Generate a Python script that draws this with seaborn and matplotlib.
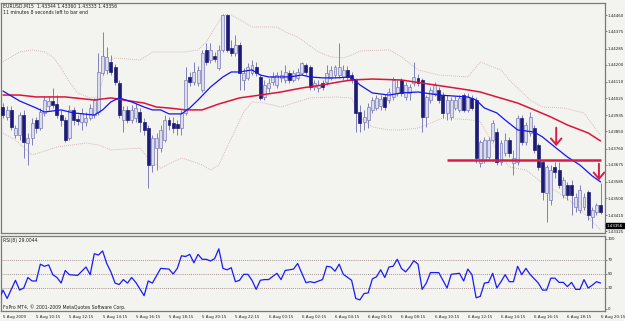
import matplotlib
matplotlib.use("Agg")
import matplotlib.pyplot as plt
import numpy as np
import pandas as pd
import seaborn as sns

sns.set_style("white")
plt.rcParams["font.family"] = ["DejaVu Sans"]

# EURUSD M15, bar 0 = 5 Aug 2009 08:15
bar_open = [
    1.43978, 1.43926, 1.43963, 1.43831, 1.43831, 1.43936, 1.43789, 1.43816, 1.43910, 1.43868,
    1.43947, 1.43984, 1.44010, 1.43994, 1.43936, 1.43910, 1.43816, 1.43963, 1.43915, 1.43900,
    1.43900, 1.43921, 1.43936, 1.43952, 1.44157, 1.44173, 1.44215, 1.44188, 1.44104, 1.43910,
    1.43963, 1.43910, 1.43921, 1.43952, 1.43900, 1.43868, 1.43674, 1.43763, 1.43763, 1.43805,
    1.43910, 1.43894, 1.43889, 1.43868, 1.43947, 1.44136, 1.44110, 1.44104, 1.44068, 1.44278,
    1.44225, 1.44246, 1.44183, 1.44278, 1.44461, 1.44288, 1.44262, 1.44304, 1.44120, 1.44131,
    1.44157, 1.44188, 1.44136, 1.44031, 1.44078, 1.44110, 1.44094, 1.44131, 1.44120, 1.44157,
    1.44120, 1.44131, 1.44157, 1.44199, 1.44188, 1.44083, 1.44078, 1.44104, 1.44110, 1.44131,
    1.44146, 1.44146, 1.44136, 1.44173, 1.44146, 1.44120, 1.43952, 1.43900, 1.43910, 1.43963,
    1.43973, 1.43984, 1.44031, 1.44015, 1.44031, 1.44052, 1.44120, 1.44031, 1.44052, 1.44104,
    1.44131, 1.44120, 1.43926, 1.44015, 1.44052, 1.44068, 1.44041, 1.43947, 1.43926, 1.43973,
    1.43963, 1.44041, 1.43963, 1.44026, 1.44015, 1.43684, 1.43700, 1.43716, 1.43805, 1.43847,
    1.43690, 1.43737, 1.43805, 1.43684, 1.43690, 1.43921, 1.43795, 1.43842, 1.43868, 1.43779,
    1.43690, 1.43527, 1.43490, 1.43663, 1.43648, 1.43516, 1.43569, 1.43569, 1.43453, 1.43438,
    1.43453, 1.43532, 1.43401, 1.43427, 1.43464,
]
bar_high = [
    1.43999, 1.43984, 1.43984, 1.43884, 1.43952, 1.43963, 1.43842, 1.43921, 1.43926, 1.43973,
    1.44036, 1.44036, 1.44078, 1.44041, 1.43963, 1.43926, 1.43989, 1.43978, 1.43936, 1.43973,
    1.43952, 1.43994, 1.44026, 1.44262, 1.44372, 1.44293, 1.44251, 1.44204, 1.44120, 1.43984,
    1.43984, 1.43989, 1.43999, 1.43973, 1.43921, 1.43884, 1.43831, 1.43842, 1.43884, 1.43936,
    1.43926, 1.43926, 1.43910, 1.43963, 1.44188, 1.44162, 1.44215, 1.44194, 1.44278, 1.44314,
    1.44314, 1.44267, 1.44304, 1.44467, 1.44467, 1.44330, 1.44356, 1.44320, 1.44183, 1.44209,
    1.44225, 1.44215, 1.44152, 1.44120, 1.44131, 1.44162, 1.44162, 1.44173, 1.44199, 1.44173,
    1.44173, 1.44183, 1.44215, 1.44209, 1.44199, 1.44120, 1.44120, 1.44120, 1.44199, 1.44194,
    1.44199, 1.44314, 1.44199, 1.44194, 1.44162, 1.44131, 1.43989, 1.43963, 1.43999, 1.44031,
    1.44041, 1.44041, 1.44047, 1.44078, 1.44136, 1.44120, 1.44131, 1.44110, 1.44099, 1.44215,
    1.44152, 1.44131, 1.44041, 1.44083, 1.44110, 1.44083, 1.44057, 1.44041, 1.44031, 1.44036,
    1.44041, 1.44052, 1.44052, 1.44041, 1.44031, 1.43805, 1.43821, 1.43821, 1.43910, 1.43868,
    1.43805, 1.43842, 1.43821, 1.43753, 1.43936, 1.43936, 1.43900, 1.43952, 1.43884, 1.43789,
    1.43700, 1.43674, 1.43674, 1.43690, 1.43690, 1.43611, 1.43585, 1.43595, 1.43527, 1.43569,
    1.43527, 1.43543, 1.43453, 1.43474, 1.43579,
]
bar_low = [
    1.43921, 1.43910, 1.43858, 1.43816, 1.43805, 1.43711, 1.43674, 1.43779, 1.43842, 1.43858,
    1.43931, 1.43963, 1.43973, 1.43921, 1.43879, 1.43795, 1.43805, 1.43884, 1.43884, 1.43858,
    1.43879, 1.43910, 1.43921, 1.43936, 1.44146, 1.44152, 1.44146, 1.44094, 1.43921, 1.43847,
    1.43894, 1.43894, 1.43900, 1.43847, 1.43831, 1.43553, 1.43637, 1.43648, 1.43742, 1.43795,
    1.43858, 1.43842, 1.43831, 1.43831, 1.43936, 1.44089, 1.44094, 1.44089, 1.44057, 1.44199,
    1.44209, 1.44215, 1.44173, 1.44267, 1.44267, 1.44246, 1.44246, 1.44068, 1.44068, 1.44120,
    1.44146, 1.44141, 1.44015, 1.44015, 1.44057, 1.44094, 1.44078, 1.44110, 1.44104, 1.44104,
    1.44110, 1.44120, 1.44146, 1.44146, 1.44068, 1.44068, 1.44057, 1.44068, 1.44094, 1.44120,
    1.44131, 1.44131, 1.44120, 1.44120, 1.44104, 1.43847, 1.43847, 1.43858, 1.43868, 1.43947,
    1.43963, 1.43963, 1.43963, 1.43999, 1.44015, 1.44036, 1.44036, 1.44015, 1.44015, 1.44089,
    1.44089, 1.43847, 1.43873, 1.43999, 1.44036, 1.43999, 1.43921, 1.43910, 1.43910, 1.43963,
    1.43952, 1.43952, 1.43952, 1.43963, 1.43684, 1.43663, 1.43684, 1.43700, 1.43795, 1.43674,
    1.43674, 1.43721, 1.43716, 1.43621, 1.43674, 1.43779, 1.43779, 1.43826, 1.43737, 1.43648,
    1.43490, 1.43375, 1.43464, 1.43606, 1.43553, 1.43501, 1.43490, 1.43411, 1.43427, 1.43422,
    1.43438, 1.43385, 1.43343, 1.43411, 1.43417,
]
bar_close = [
    1.43936, 1.43963, 1.43873, 1.43868, 1.43936, 1.43795, 1.43816, 1.43894, 1.43868, 1.43952,
    1.44015, 1.44010, 1.43989, 1.43936, 1.43910, 1.43805, 1.43963, 1.43910, 1.43905, 1.43947,
    1.43921, 1.43973, 1.44015, 1.44162, 1.44246, 1.44241, 1.44162, 1.44110, 1.43936, 1.43963,
    1.43910, 1.43963, 1.43973, 1.43900, 1.43858, 1.43674, 1.43816, 1.43816, 1.43858, 1.43910,
    1.43884, 1.43868, 1.43868, 1.43947, 1.44120, 1.44110, 1.44162, 1.44173, 1.44262, 1.44215,
    1.44278, 1.44230, 1.44278, 1.44461, 1.44278, 1.44262, 1.44304, 1.44157, 1.44157, 1.44188,
    1.44199, 1.44157, 1.44026, 1.44094, 1.44104, 1.44136, 1.44146, 1.44146, 1.44162, 1.44120,
    1.44157, 1.44162, 1.44209, 1.44162, 1.44083, 1.44104, 1.44094, 1.44083, 1.44157, 1.44173,
    1.44188, 1.44188, 1.44173, 1.44136, 1.44120, 1.43947, 1.43894, 1.43926, 1.43978, 1.44015,
    1.44026, 1.44020, 1.43978, 1.44057, 1.44120, 1.44083, 1.44052, 1.44094, 1.44083, 1.44136,
    1.44104, 1.43926, 1.44031, 1.44068, 1.44094, 1.44015, 1.43947, 1.44015, 1.44015, 1.44015,
    1.44026, 1.43963, 1.44031, 1.43973, 1.43711, 1.43795, 1.43805, 1.43805, 1.43894, 1.43690,
    1.43789, 1.43805, 1.43737, 1.43711, 1.43921, 1.43795, 1.43884, 1.43926, 1.43753, 1.43663,
    1.43532, 1.43663, 1.43648, 1.43637, 1.43569, 1.43595, 1.43516, 1.43516, 1.43506, 1.43543,
    1.43506, 1.43411, 1.43438, 1.43464, 1.43427,
]

# moving averages and bollinger bands, read at turning points
ma_fast_bar = [0, 4, 8, 10, 14, 17, 22, 24, 26, 28, 31, 34, 36, 38, 40, 43, 45, 47, 50, 53,
               55, 57, 60, 62, 64, 69, 72, 74, 77, 80, 84, 86, 89, 93, 96, 100, 105, 112, 114,
               116, 119, 121, 124, 128, 130, 133, 136, 139, 142, 144]
ma_fast = [1.44062, 1.44010, 1.43973, 1.43952, 1.43963, 1.43947, 1.43936, 1.43963, 1.44005,
           1.44026, 1.44005, 1.43978, 1.43963, 1.43963, 1.43942, 1.43942, 1.43973, 1.44015,
           1.44083, 1.44136, 1.44162, 1.44162, 1.44173, 1.44146, 1.44136, 1.44136, 1.44146,
           1.44136, 1.44131, 1.44131, 1.44136, 1.44094, 1.44052, 1.44041, 1.44052, 1.44057,
           1.44041, 1.44031, 1.44015, 1.43973, 1.43947, 1.43910, 1.43858, 1.43847, 1.43821,
           1.43768, 1.43716, 1.43674, 1.43616, 1.43585]

ma_slow_bar = [0, 4, 8, 15, 22, 26, 29, 34, 37, 40, 44, 48, 52, 57, 62, 67, 72, 77, 81, 84,
               89, 96, 104, 112, 115, 119, 124, 128, 132, 136, 141, 144]
ma_slow = [1.44041, 1.44041, 1.44031, 1.44031, 1.44015, 1.44026, 1.44015, 1.43999, 1.43978,
           1.43973, 1.43963, 1.43963, 1.43994, 1.44026, 1.44041, 1.44057, 1.44078, 1.44094,
           1.44110, 1.44120, 1.44125, 1.44120, 1.44094, 1.44068, 1.44057, 1.44031, 1.43999,
           1.43963, 1.43926, 1.43884, 1.43842, 1.43800]

band_up_bar = [0, 4, 7, 10, 12, 14, 16, 18, 21, 23, 25, 27, 33, 35, 36, 44, 47, 49, 53, 55,
               58, 60, 66, 68, 71, 73, 76, 79, 82, 84, 86, 93, 96, 100, 105, 112, 115, 118,
               120, 122, 125, 127, 130, 135, 140, 143, 144]
band_up = [1.44215, 1.44267, 1.44278, 1.44267, 1.44241, 1.44183, 1.44110, 1.44052, 1.44026,
           1.44031, 1.44215, 1.44236, 1.44225, 1.44251, 1.44267, 1.44267, 1.44278, 1.44320,
           1.44461, 1.44461, 1.44425, 1.44398, 1.44398, 1.44372, 1.44346, 1.44314, 1.44267,
           1.44241, 1.44236, 1.44251, 1.44272, 1.44278, 1.44241, 1.44173, 1.44146, 1.44136,
           1.44215, 1.44188, 1.44173, 1.44120, 1.44057, 1.44015, 1.43978, 1.43973, 1.43947,
           1.43858, 1.43831]

band_low_bar = [0, 3, 7, 13, 20, 23, 26, 33, 35, 38, 43, 46, 48, 50, 52, 54, 56, 58, 60, 63,
                67, 70, 74, 80, 84, 86, 89, 93, 96, 100, 103, 106, 113, 115, 119, 122, 126,
                130, 134, 138, 141, 144]
band_low = [1.43842, 1.43805, 1.43726, 1.43768, 1.43789, 1.43779, 1.43753, 1.43763, 1.43711,
            1.43658, 1.43711, 1.43690, 1.43674, 1.43648, 1.43674, 1.43768, 1.43858, 1.43952,
            1.44005, 1.43999, 1.43978, 1.43999, 1.44026, 1.44031, 1.44026, 1.43921, 1.43873,
            1.43858, 1.43858, 1.43868, 1.43894, 1.43921, 1.43910, 1.43900, 1.43753, 1.43663,
            1.43648, 1.43579, 1.43527, 1.43464, 1.43401, 1.43333]

# RSI(8)
rsi_bar = [-1, 0, 1, 3, 4, 5, 6, 7, 8, 9, 10, 11, 12, 13, 14, 15, 16, 18, 20, 21, 22, 23, 24,
           25, 26, 27, 28, 29, 30, 31, 32, 34, 35, 36, 38, 40, 41, 42, 43, 44, 45, 46, 47, 48,
           49, 50, 51, 52, 53, 54, 55, 56, 57, 58, 59, 60, 61, 62, 63, 64, 66, 67, 68, 70, 71,
           73, 74, 75, 77, 78, 79, 80, 81, 82, 84, 85, 86, 87, 88, 89, 90, 91, 92, 93, 94, 95,
           96, 97, 98, 99, 100, 101, 102, 103, 105, 106, 107, 108, 110, 111, 112, 113, 114,
           115, 116, 117, 118, 119, 120, 121, 122, 123, 124, 125, 126, 127, 129, 130, 131, 132,
           133, 134, 135, 136, 137, 138, 139, 140, 141, 142, 143, 144]
rsi_val = [13, 27, 15, 41, 27, 30, 45, 40, 40, 64, 61, 63, 49, 45, 37, 55, 49, 48, 60, 49, 79,
           77, 83, 65, 53, 37, 35, 42, 37, 45, 38, 19, 40, 37, 58, 57, 50, 58, 76, 75, 78, 66,
           78, 71, 71, 68.6, 72, 86, 58, 56, 59, 39, 41, 49.5, 49.5, 41, 28, 41, 42, 42, 51, 42,
           55, 57, 65, 37.6, 39, 37.6, 42, 61, 60, 54, 64, 49.5, 41, 15, 13, 22, 23, 43, 46, 56,
           45, 60, 61, 71, 58, 53, 60, 69, 64, 28, 37, 52, 52, 41, 30, 49.5, 51, 40, 57, 49, 16,
           18, 37, 38, 51, 30, 39, 49, 39, 39, 61, 49, 58, 49.5, 37, 27, 27, 44, 44, 38, 38, 32,
           38, 28, 28, 42, 30, 34, 39, 37]
rsi_levels = [70, 50, 30]

price_ticks = ["1.44460", "1.44375", "1.44285", "1.44200", "1.44110", "1.44025", "1.43935",
               "1.43850", "1.43760", "1.43675", "1.43585", "1.43500", "1.43410", "1.43325"]
time_bars = list(range(0, 145, 8))
time_labels = ["5 Aug 2009", "5 Aug 10:15", "5 Aug 12:15", "5 Aug 14:15", "5 Aug 16:15",
               "5 Aug 18:15", "5 Aug 20:15", "5 Aug 22:15", "6 Aug 00:15", "6 Aug 02:15",
               "6 Aug 04:15", "6 Aug 06:15", "6 Aug 08:15", "6 Aug 10:15", "6 Aug 12:15",
               "6 Aug 14:15", "6 Aug 16:15", "6 Aug 18:15", "6 Aug 20:15"]
last_price = 1.43356
level_price = 1.43700

BG = "#f3f3ef"
FRAME = "#7a7a7a"
BEAR = "#1c1c78"
BULL_FILL = "#dcdcef"
BULL_EDGE = "#7c7cb8"
WICK = "#8080b8"
RED = "#dc143c"
DRAW = "#d81e48"
TXT = "#202020"
FS = 3.3
FS_AX = 2.9

df = pd.DataFrame({"bar": np.arange(len(bar_open)), "open": bar_open, "high": bar_high,
                   "low": bar_low, "close": bar_close})
up = df["close"] >= df["open"]

fig = plt.figure(figsize=(6.25, 3.21), dpi=100, facecolor=BG)
ax = fig.add_axes([1 / 625, 1 - 233 / 321, 604 / 625, 230 / 321], facecolor=BG)
ax_rsi = fig.add_axes([1 / 625, 1 - 311 / 321, 604 / 625, 75.5 / 321], facecolor=BG)

# bollinger bands
for xs, ys in [(band_up_bar, band_up), (band_low_bar, band_low)]:
    sns.lineplot(x=xs, y=ys, ax=ax, color="#cfa6a6", lw=0.6, linestyle=(0, (1, 1.4)), zorder=1)

# candles
ax.vlines(df["bar"], df["low"], df["high"], color=WICK, lw=0.7, zorder=2)
ax.bar(df.loc[up, "bar"], (df["close"] - df["open"])[up], bottom=df.loc[up, "open"],
       width=0.72, color=BULL_FILL, edgecolor=BULL_EDGE, lw=0.5, zorder=3)
ax.bar(df.loc[~up, "bar"], (df["open"] - df["close"])[~up], bottom=df.loc[~up, "close"],
       width=0.72, color=BEAR, edgecolor=BEAR, lw=0.5, zorder=3)

# moving averages
sns.lineplot(x=ma_slow_bar, y=ma_slow, ax=ax, color=RED, lw=1.1, zorder=4)
sns.lineplot(x=ma_fast_bar, y=ma_fast, ax=ax, color="#1414f0", lw=0.9, zorder=4)

# hand drawn level and arrows
ax.hlines(level_price, 107, 144.2, color=DRAW, lw=1.8, zorder=6)
arrow_style = "->,head_length=0.45,head_width=0.38"
ax.annotate("", xy=(133.3, 1.43758), xytext=(133.3, 1.43884),
            arrowprops=dict(arrowstyle=arrow_style, color=DRAW, lw=1.4), zorder=6)
ax.annotate("", xy=(143.6, 1.43579), xytext=(143.6, 1.43695),
            arrowprops=dict(arrowstyle=arrow_style, color=DRAW, lw=1.4), zorder=6)

ax.set_xlim(-0.48, 145.06)
ax.set_ylim(1.43317, 1.44524)
ax.yaxis.tick_right()
ax.set_yticks([float(t) for t in price_ticks])
ax.set_yticklabels(price_ticks)
ax.tick_params(axis="y", labelsize=FS_AX, length=1.3, width=0.5, color="#555555", pad=0.6,
               labelcolor=TXT)
ax.tick_params(axis="x", bottom=False, labelbottom=False)
ax.set_xlabel("")
ax.set_ylabel("")
ax.annotate(f"{last_price:.5f}", xy=(1.0, last_price), xycoords=("axes fraction", "data"),
            xytext=(1.4, 0), textcoords="offset points", fontsize=FS_AX, color="white",
            va="center", ha="left", annotation_clip=False,
            bbox=dict(boxstyle="square,pad=0.15", fc="black", ec="black"))

# RSI panel
for lv in rsi_levels:
    ax_rsi.axhline(lv, color="#8a7070", lw=0.6, linestyle=(0, (1, 1.5)), zorder=1)
sns.lineplot(x=rsi_bar, y=rsi_val, ax=ax_rsi, color="#1a1aff", lw=0.9, zorder=3)
ax_rsi.set_xlim(-0.48, 145.06)
ax_rsi.set_ylim(-2.9, 105)
ax_rsi.yaxis.tick_right()
ax_rsi.set_yticks([100, 70, 50, 30, 0])
ax_rsi.set_yticklabels(["100", "70", "50", "30", "0"])
ax_rsi.tick_params(axis="y", labelsize=FS_AX, length=1.3, width=0.5, color="#555555", pad=0.6,
                   labelcolor=TXT)
ax_rsi.set_xticks(time_bars)
ax_rsi.set_xticklabels(time_labels, ha="left")
ax_rsi.tick_params(axis="x", labelsize=FS_AX, length=2, width=0.5, color="#555555", pad=0.8,
                   labelcolor=TXT)
ax_rsi.set_xlabel("")
ax_rsi.set_ylabel("")

for a in (ax, ax_rsi):
    for sp in a.spines.values():
        sp.set_color(FRAME)
        sp.set_linewidth(0.9)
    a.grid(False)

fig.text(3 / 625, 1 - 6 / 321, "EURUSD,M15  1.43344 1.43360 1.43333 1.43356",
         fontsize=FS, color=TXT, va="center")
fig.text(3 / 625, 1 - 12.5 / 321, "11 minutes 8 seconds left to bar end",
         fontsize=FS, color=TXT, va="center")
fig.text(3 / 625, 1 - 240.5 / 321, "RSI(8) 29.0044", fontsize=FS, color=TXT, va="center")
fig.text(3 / 625, 1 - 307.5 / 321, "FxPro MT4, \u00a9 2001-2009 MetaQuotes Software Corp.",
         fontsize=FS, color=TXT, va="center")

fig.savefig("out.png", dpi=100, facecolor=BG)
